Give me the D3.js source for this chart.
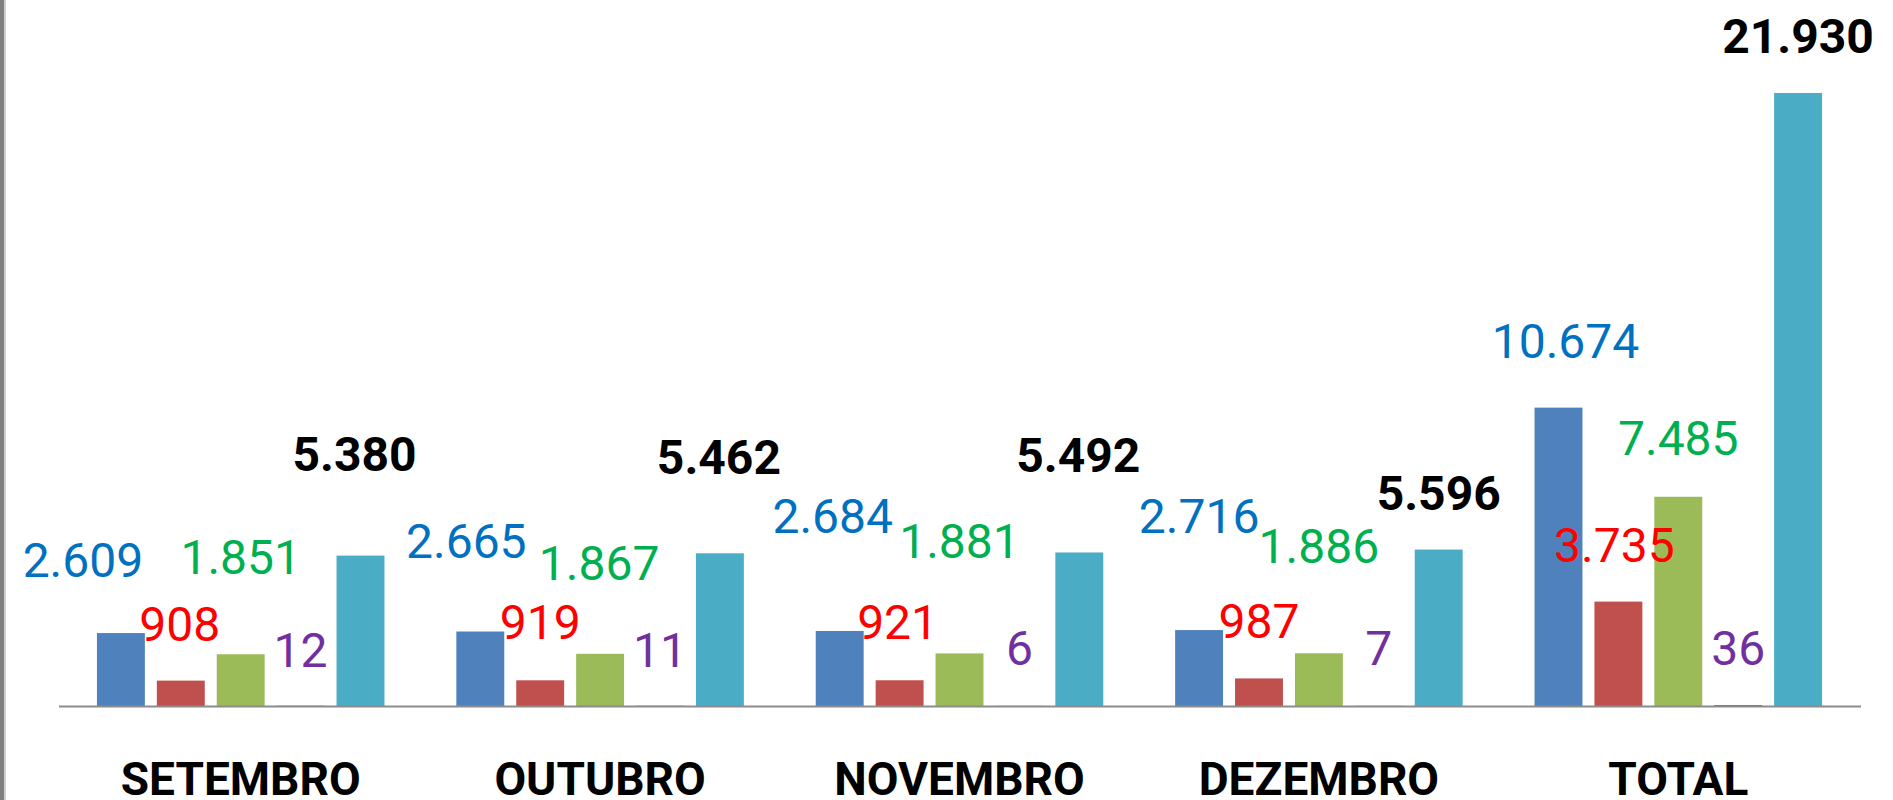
<!DOCTYPE html>
<html>
<head>
<meta charset="utf-8">
<script src="https://cdn.jsdelivr.net/npm/d3@7/dist/d3.min.js"></script>
<style>
  body { margin: 0; background: #fff; }
  svg { display: block; }
</style>
</head>
<body>
<svg id="chart" width="1893" height="800"></svg>
<script>
const categories = ["SETEMBRO", "OUTUBRO", "NOVEMBRO", "DEZEMBRO", "TOTAL"];
const blueValues = [2609, 2665, 2684, 2716, 10674];
const redValues = [908, 919, 921, 987, 3735];
const greenValues = [1851, 1867, 1881, 1886, 7485];
const purpleValues = [12, 11, 6, 7, 36];
const totalValues = [5380, 5462, 5492, 5596, 21930];

const series = [
    { key: "blue", values: blueValues, fill: "#4F81BD", label: "#0070C0", bold: false },
    { key: "red", values: redValues, fill: "#C0504D", label: "#FF0000", bold: false },
    { key: "green", values: greenValues, fill: "#9BBB59", label: "#00B050", bold: false },
    { key: "purple", values: purpleValues, fill: "#8064A2", label: "#7030A0", bold: false },
    { key: "cyan", values: totalValues, fill: "#4BACC6", label: "#000000", bold: true }
];

// labels were dragged by hand in the original, so nudge them [dx, dy]
const labelNudge = {
    blue: [[-38, -16], [-14, -34], [-7, -58], [0, -57], [7, -10]],
    red: [[-1, 0], [0, -1], [-2, -1], [0, 0], [-4, 0]],
    green: [[0, -40], [-1, -34], [0, -55], [0, -50], [0, -2]],
    purple: [[0, 1], [0, 1], [0, -1], [0, -1], [0, 0]],
    cyan: [[-6, -45], [-1, -39], [-1, -40], [0, 0], [0, 0]]
};

const fmt = d3.formatLocale({ decimal: ",", thousands: ".", grouping: [3], currency: ["R$", ""] }).format(",d");

const svg = d3.select("#chart");
const baseY = 706;

// left frame edge
svg.append("rect").attr("x", 0).attr("y", 0).attr("width", 4).attr("height", 800).attr("fill", "#808080");
svg.append("rect").attr("x", 4).attr("y", 0).attr("width", 2).attr("height", 800).attr("fill", "#d0d0d0");

const x0 = d3.scaleBand().domain(categories).range([61, 1858]).padding(0);
const x1 = d3.scaleBand().domain(series.map(s => s.key)).range([0, x0.bandwidth()])
    .paddingInner(0.2).paddingOuter(0.6);
const y = d3.scaleLinear().domain([0, 22000]).range([baseY, 91]);

const groups = svg.selectAll(".cat").data(categories).enter().append("g")
    .attr("class", "cat")
    .attr("transform", d => "translate(" + x0(d) + ",0)");

groups.each(function(cat, ci) {
    const g = d3.select(this);
    series.forEach(s => {
        const v = s.values[ci];
        g.append("rect")
            .attr("x", x1(s.key))
            .attr("y", y(v))
            .attr("width", x1.bandwidth())
            .attr("height", baseY - y(v))
            .attr("fill", s.fill);
    });
});

// axis line
svg.append("line")
    .attr("x1", 59).attr("x2", 1861)
    .attr("y1", baseY + 0.5).attr("y2", baseY + 0.5)
    .attr("stroke", "#8c8c8c").attr("stroke-width", 2);

// data labels
groups.each(function(cat, ci) {
    const g = d3.select(this);
    series.forEach(s => {
        const v = s.values[ci];
        const n = labelNudge[s.key][ci];
        g.append("text")
            .attr("x", x1(s.key) + x1.bandwidth() / 2 + n[0])
            .attr("y", y(v) - 40 + n[1])
            .attr("text-anchor", "middle")
            .attr("font-family", "Roboto, 'Liberation Sans', Arial, sans-serif")
            .attr("font-size", s.bold ? 48 : 48)
            .attr("font-weight", s.bold ? "bold" : "normal")
            .attr("fill", s.label)
            .text(fmt(v));
    });
});

// category labels
svg.selectAll(".catlabel").data(categories).enter().append("text")
    .attr("class", "catlabel")
    .attr("x", d => x0(d) + x0.bandwidth() / 2)
    .attr("y", 795)
    .attr("text-anchor", "middle")
    .attr("font-family", "Roboto, 'Liberation Sans', Arial, sans-serif")
    .attr("font-size", 46)
    .attr("font-weight", "bold")
    .attr("fill", "#000")
    .text(d => d);
</script>
</body>
</html>
